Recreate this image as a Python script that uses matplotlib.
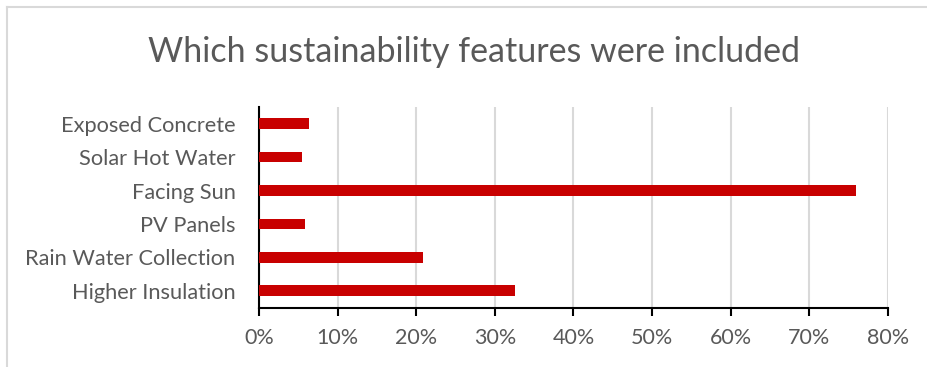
import matplotlib
matplotlib.use("Agg")
import matplotlib.pyplot as plt
from matplotlib.lines import Line2D

# survey results (share of respondents), bottom to top
features = ["Higher Insulation", "Rain Water Collection", "PV Panels",
            "Facing Sun", "Solar Hot Water", "Exposed Concrete"]
shares = [32.6, 20.9, 5.8, 76.0, 5.5, 6.4]
x_ticks = [0, 10, 20, 30, 40, 50, 60, 70, 80]
x_labels = [f"{t}%" for t in x_ticks]

TEXT = "#595959"
BAR = "#C80000"
GRID = "#D9D9D9"

plt.rcParams["font.family"] = ["Lato", "DejaVu Sans"]

fig = plt.figure(figsize=(9.27, 3.67), dpi=100)
ax = fig.add_axes([0.2794, 0.162, 0.6783, 0.5465])

ax.barh(range(len(features)), shares, height=0.32, color=BAR, zorder=3)

ax.set_xlim(0, 80)
ax.set_ylim(-0.5, len(features) - 0.5)
ax.set_xticks(x_ticks)
ax.set_xticklabels(x_labels)
ax.set_yticks(range(len(features)))
ax.set_yticklabels(features)

ax.grid(axis="x", color=GRID, linewidth=1.5, zorder=0)
for side in ["top", "right"]:
    ax.spines[side].set_visible(False)
for side in ["left", "bottom"]:
    ax.spines[side].set_color("black")
    ax.spines[side].set_linewidth(1.5)

ax.tick_params(axis="x", direction="out", length=6, width=1.5, color="black",
               labelsize=15.5, labelcolor=TEXT, pad=9)
ax.tick_params(axis="y", length=0, labelsize=15.7, labelcolor=TEXT, pad=17)

fig.text(0.511, 0.858, "Which sustainability features were included",
         ha="center", va="center", fontsize=24.5, color=TEXT)

# outer chart frame (only top and left edges visible in the crop)
fig.add_artist(Line2D([7 / 927, 7 / 927], [0, 1 - 7 / 367], transform=fig.transFigure,
                      color=GRID, linewidth=1.5))
fig.add_artist(Line2D([7 / 927, 1], [1 - 7 / 367, 1 - 7 / 367], transform=fig.transFigure,
                      color=GRID, linewidth=1.5))

fig.savefig("out.png", dpi=100)
